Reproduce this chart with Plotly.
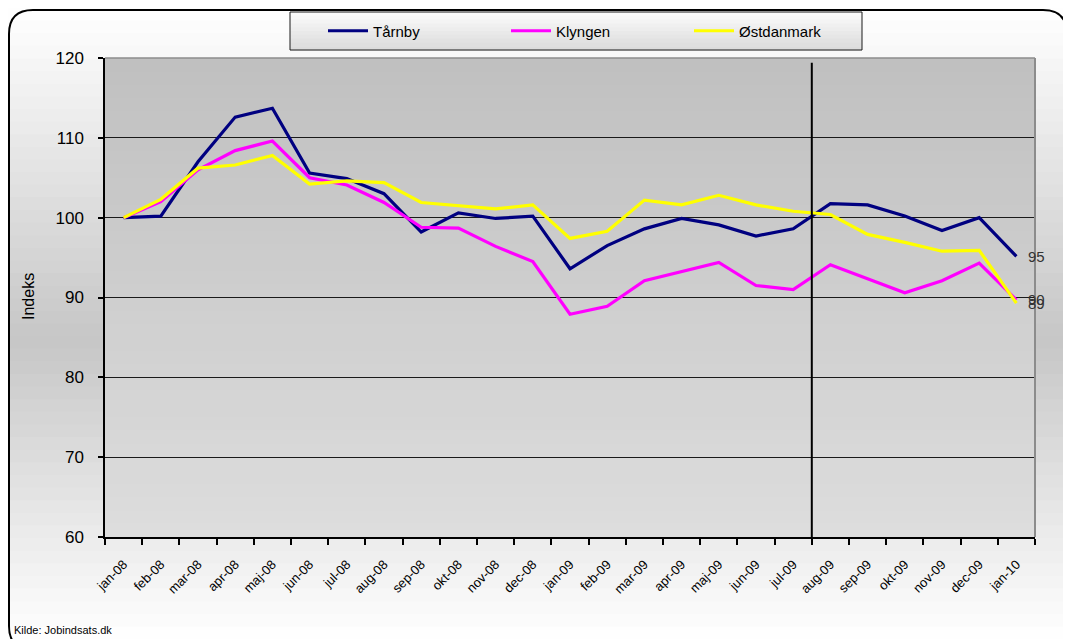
import plotly.graph_objects as go

months = ["jan-08", "feb-08", "mar-08", "apr-08", "maj-08", "jun-08", "jul-08", "aug-08",
          "sep-08", "okt-08", "nov-08", "dec-08", "jan-09", "feb-09", "mar-09", "apr-09",
          "maj-09", "jun-09", "jul-09", "aug-09", "sep-09", "okt-09", "nov-09", "dec-09", "jan-10"]

taarnby = [100.0, 100.2, 107.0, 112.6, 113.7, 105.6, 104.9, 103.0, 98.2, 100.6, 99.9, 100.2,
           93.6, 96.5, 98.6, 99.9, 99.1, 97.7, 98.6, 101.75, 101.6, 100.2, 98.4, 100.0, 95.15]
klyngen = [100.0, 102.0, 106.0, 108.4, 109.6, 105.0, 104.1, 101.9, 98.8, 98.7, 96.4, 94.5,
           87.9, 88.9, 92.1, 93.2, 94.4, 91.5, 91.0, 94.1, 92.4, 90.6, 92.1, 94.3, 89.7]
oestdanmark = [100.0, 102.3, 106.2, 106.6, 107.8, 104.2, 104.6, 104.4, 101.9, 101.5, 101.1, 101.6,
               97.4, 98.3, 102.2, 101.6, 102.8, 101.6, 100.8, 100.4, 97.9, 96.9, 95.8, 95.9, 89.3]

series_names = ["Tårnby", "Klyngen", "Østdanmark"]
series_values = [taarnby, klyngen, oestdanmark]
series_colors = ["#000080", "#ff00ff", "#ffff00"]

y_ticks = [60, 70, 80, 90, 100, 110, 120]

# page layout (page pixels; the page body has an 8px margin)
OFF = 8
PAGE_W, PAGE_H = 1071, 639
FW, FH = PAGE_W - OFF, PAGE_H - OFF
L, R, T, B = 105, 1035, 58, 537
PW, PH = R - L, B - T


def px(x):
    return (x - L) / PW


def py(y):
    return (B - y) / PH


def grey(v):
    v = int(round(max(0, min(255, v))))
    return f"rgb({v},{v},{v})"


shapes = []

# figure background gradient (white top, grey middle, white bottom)
nb = 50
for i in range(nb):
    y0 = OFF + FH * i / nb
    y1 = OFF + FH * (i + 1) / nb + 1
    yc = (y0 + y1) / 2
    if yc < 340:
        v = 255 - 57 * (yc - 10) / 330
    else:
        v = 198 + 57 * (yc - 340) / 299
    shapes.append(dict(type="rect", xref="paper", yref="paper", layer="below",
                       x0=px(0), x1=px(PAGE_W + 5), y0=py(y1), y1=py(y0),
                       fillcolor=grey(v), line=dict(width=0)))

# plot area gradient
nb = 36
for i in range(nb):
    y0 = T + PH * i / nb
    y1 = T + PH * (i + 1) / nb + (0.8 if i < nb - 1 else 0)
    v = 192 + 29 * (i + 0.5) / nb
    shapes.append(dict(type="rect", xref="paper", yref="paper", layer="below",
                       x0=0, x1=1, y0=py(y1), y1=py(y0),
                       fillcolor=grey(v), line=dict(width=0)))

# legend box gradient
lx0, lx1, ly0, ly1 = 290, 862, 12, 50
nb = 10
for i in range(nb):
    y0 = ly0 + (ly1 - ly0) * i / nb
    y1 = ly0 + (ly1 - ly0) * (i + 1) / nb + 0.5
    v = 252 - 34 * (i + 0.5) / nb
    shapes.append(dict(type="rect", xref="paper", yref="paper", layer="below",
                       x0=px(lx0), x1=px(lx1), y0=py(y1), y1=py(y0),
                       fillcolor=grey(v), line=dict(width=0)))
shapes.append(dict(type="rect", xref="paper", yref="paper", layer="below",
                   x0=px(lx0), x1=px(lx1), y0=py(ly1), y1=py(ly0),
                   fillcolor="rgba(0,0,0,0)", line=dict(color="#1a1a1a", width=1)))

# plot border (top and right grey)
shapes.append(dict(type="line", xref="paper", yref="paper", layer="above",
                   x0=0, x1=1, y0=1, y1=1, line=dict(color="#8c8c8c", width=1.5)))
shapes.append(dict(type="line", xref="paper", yref="paper", layer="above",
                   x0=1, x1=1, y0=0, y1=1, line=dict(color="#8c8c8c", width=2)))

# vertical marker line between jul-09 and aug-09
shapes.append(dict(type="line", xref="x", yref="y", layer="above",
                   x0=18.5, x1=18.5, y0=60, y1=119.4, line=dict(color="#000000", width=2)))

# rounded outer frame
fx0, fy0, fx1, fy1, r = 9, 10, 1067, 650, 24
path = (f"M{px(fx0 + r)},{py(fy0)} L{px(fx1 - r)},{py(fy0)} Q{px(fx1)},{py(fy0)} {px(fx1)},{py(fy0 + r)} "
        f"L{px(fx1)},{py(fy1 - r)} Q{px(fx1)},{py(fy1)} {px(fx1 - r)},{py(fy1)} "
        f"L{px(fx0 + r)},{py(fy1)} Q{px(fx0)},{py(fy1)} {px(fx0)},{py(fy1 - r)} "
        f"L{px(fx0)},{py(fy0 + r)} Q{px(fx0)},{py(fy0)} {px(fx0 + r)},{py(fy0)} Z")
shapes.append(dict(type="path", xref="paper", yref="paper", layer="above", path=path,
                   line=dict(color="#000000", width=2), fillcolor="rgba(0,0,0,0)"))

fig = go.Figure()
for name, vals, col in zip(series_names, series_values, series_colors):
    fig.add_trace(go.Scatter(x=months, y=vals, name=name, mode="lines",
                             line=dict(color=col, width=3.2)))

annotations = []
for vals in series_values:
    annotations.append(dict(x=months[-1], y=vals[-1], xref="x", yref="y", text=str(round(vals[-1])),
                            showarrow=False, xanchor="left", yanchor="middle", xshift=10,
                            font=dict(family="Liberation Sans, Arial", size=15, color="#333333")))
annotations.append(dict(x=px(28), y=py(297), xref="paper", yref="paper", text="Indeks",
                        textangle=-90, showarrow=False, xanchor="center", yanchor="middle",
                        font=dict(family="Liberation Sans, Arial", size=16, color="#000000")))
annotations.append(dict(x=px(12), y=py(630), xref="paper", yref="paper", text="Kilde: Jobindsats.dk",
                        showarrow=False, xanchor="left", yanchor="middle",
                        font=dict(family="Liberation Sans, Arial", size=11, color="#000000")))

fig.update_layout(
    width=FW, height=FH,
    margin=dict(l=L - OFF, r=PAGE_W - R, t=T - OFF, b=PAGE_H - B, autoexpand=False),
    paper_bgcolor="#ffffff",
    plot_bgcolor="rgba(0,0,0,0)",
    font=dict(family="Liberation Sans, Arial", color="#000000"),
    shapes=shapes,
    annotations=annotations,
    showlegend=True,
    legend=dict(orientation="h", x=px(323), y=py(31), xanchor="left", yanchor="middle",
                bgcolor="rgba(0,0,0,0)", borderwidth=0,
                font=dict(family="Liberation Sans, Arial", size=15, color="#000000"),
                entrywidth=128, entrywidthmode="pixels", itemwidth=40),
    xaxis=dict(type="category", range=[-0.5, 24.5], tickson="boundaries", ticks="outside",
               ticklen=6, tickcolor="#000000", tickwidth=1.5, showgrid=False,
               showline=True, linecolor="#000000", linewidth=1.5, tickangle=-45,
               ticklabelstandoff=13,
               tickfont=dict(family="Liberation Sans, Arial", size=13, color="#000000"),
               fixedrange=True),
    yaxis=dict(range=[60, 120], tickvals=y_ticks, ticks="outside", ticklen=5,
               tickcolor="#000000", tickwidth=1.5, showgrid=True, gridcolor="#1a1a1a",
               gridwidth=1, showline=True, linecolor="#000000", linewidth=1.5,
               zeroline=False, ticklabelstandoff=11,
               tickfont=dict(family="Liberation Sans, Arial", size=17, color="#000000"),
               fixedrange=True),
)

fig.write_html("out.html")
